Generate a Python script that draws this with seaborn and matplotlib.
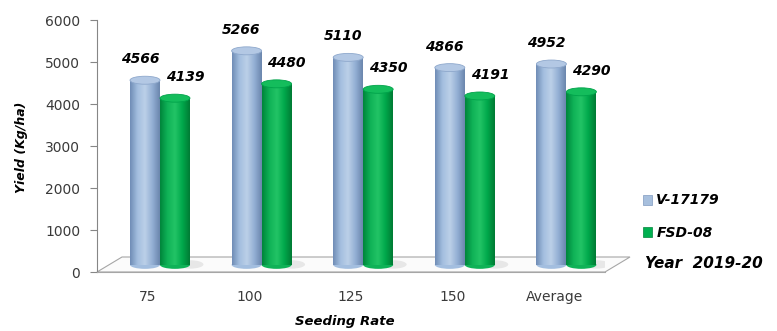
import numpy as np
import pandas as pd
import matplotlib
matplotlib.use("Agg")
import matplotlib.pyplot as plt
import seaborn as sns
from matplotlib.patches import Ellipse, Polygon, Patch
from matplotlib.colors import LinearSegmentedColormap

# ---- data ----
categories = ["75", "100", "125", "150", "Average"]
v17179 = [4566, 5266, 5110, 4866, 4952]
fsd08 = [4139, 4480, 4350, 4191, 4290]
series_names = ["V-17179", "FSD-08"]
y_ticks = [0, 1000, 2000, 3000, 4000, 5000, 6000]

df = pd.DataFrame({
    "rate": categories * 2,
    "yield": v17179 + fsd08,
    "variety": [series_names[0]] * len(categories) + [series_names[1]] * len(categories),
})

base_colors = ["#95B3D7", "#00B050"]
grad_stops = [
    ["#6F8CB5", "#A3BEDF", "#BCD0E8", "#93AFD4", "#6A85AC"],
    ["#00843A", "#0FB257", "#22C466", "#00A84B", "#007A34"],
]
cap_colors = ["#B3C8E4", "#14BD5C"]
cap_edge = ["#8EA8CC", "#00A24A"]

sns.set_theme(style="white")
plt.rcParams["font.family"] = ["DejaVu Sans"]
plt.rcParams["text.color"] = "black"

fig = plt.figure(figsize=(7.77, 3.31), dpi=100)
ax = fig.add_axes([97 / 777, (331 - 272) / 331, 508 / 777, 252 / 331])

sns.barplot(data=df, x="rate", y="yield", hue="variety", palette=base_colors,
            width=0.59, dodge=True, ax=ax, legend=False, saturation=1)

shift = 0.12
ncat = len(categories)
base = 170  # visual base of cylinders on the 3D floor
for i, p in enumerate(list(ax.patches)):
    s = 0 if i < ncat else 1
    p.set_x(p.get_x() + shift)
    x0, w, h = p.get_x(), p.get_width(), p.get_height()
    p.set_facecolor("none")
    p.set_edgecolor("none")
    p.set_zorder(3)
    # rounded bottom
    ax.add_patch(Ellipse((x0 + w / 2, base), w, 190, facecolor=grad_stops[s][1],
                         edgecolor="none", zorder=2.9))
    # floor shadow
    if s == 1:
        ax.add_patch(Ellipse((x0 + w * 1.0, base + 10), w * 0.9, 200, facecolor="#A0A0A0",
                             edgecolor="none", alpha=0.22, zorder=2.5))
    cmap = LinearSegmentedColormap.from_list("g%d" % i, grad_stops[s])
    grad = np.linspace(0, 1, 256).reshape(1, -1)
    im = ax.imshow(grad, extent=[x0, x0 + w, base, h], aspect="auto", cmap=cmap,
                   zorder=3.1, interpolation="bicubic")
    im.set_clip_path(p)
    # top cap
    ax.add_patch(Ellipse((x0 + w / 2, h), w, 190, facecolor=cap_colors[s],
                         edgecolor=cap_edge[s], linewidth=0.6, zorder=3.2))
    # value label
    off = -0.05 if s == 0 else 0.10
    ax.text(x0 + w / 2 + off, h + 500, f"{int(round(h))}", ha="center", va="center",
            fontsize=10, fontweight="bold", fontstyle="italic", color="black", zorder=5)

ax.set_xlim(-0.5, ncat - 0.5)
ax.set_ylim(0, 6000)
ax.set_yticks(y_ticks)
ax.set_yticklabels([str(t) for t in y_ticks])
ax.set_xlabel("")
ax.set_ylabel("")

# ticks
ax.set_xticks(range(ncat))
ax.set_xticklabels(categories)
ax.set_xticks(np.arange(-0.5, ncat, 1.0), minor=True)
ax.tick_params(axis="x", which="major", length=0, pad=13, labelsize=10, colors="#3A3A3A")
ax.tick_params(axis="x", which="minor", length=5, width=0.8, color="#868686", direction="out")
ax.tick_params(axis="y", which="major", length=5, width=0.8, color="#868686", direction="out",
               pad=7, labelsize=10, labelcolor="#3A3A3A", left=True)

for side in ["top", "right"]:
    ax.spines[side].set_visible(False)
ax.spines["left"].set_color("#868686")
ax.spines["left"].set_linewidth(0.8)
ax.spines["bottom"].set_color("#A6A6A6")
ax.spines["bottom"].set_linewidth(0.8)

# 3D floor
dx, dy = 25 / 508, 15 / 252
floor = Polygon([[0, 0], [1, 0], [1 + dx, dy], [dx, dy]], closed=True,
                transform=ax.transAxes, facecolor="#FBFBFB", edgecolor="#A6A6A6",
                linewidth=0.8, zorder=1, clip_on=False)
ax.add_patch(floor)

# legend
handles = [Patch(facecolor=c, edgecolor="#7F9AC0" if k == 0 else "#00843A", linewidth=0.5)
           for k, c in enumerate(["#A7BFDD", "#00B050"])]
leg = fig.legend(handles, series_names, loc="upper left",
                 bbox_to_anchor=(630 / 777, 1 - 181 / 331), frameon=False,
                 handlelength=0.7, handleheight=0.7, handletextpad=0.3,
                 labelspacing=1.3, prop={"size": 10, "weight": "bold", "style": "italic"})
for t in leg.get_texts():
    t.set_color("black")

fig.text(645 / 777, 1 - 264 / 331, "Year  2019-20", ha="left", va="center",
         fontsize=11, fontweight="bold", fontstyle="italic", color="black")

fig.text(22 / 777, 1 - 147 / 331, "Yield (Kg/ha)", rotation=90, ha="center", va="center",
         fontsize=9, fontweight="bold", fontstyle="italic", color="black")
fig.text(345 / 777, 1 - 322 / 331, "Seeding Rate", ha="center", va="center",
         fontsize=9.5, fontweight="bold", fontstyle="italic", color="black")

fig.savefig("out.png", dpi=100)
